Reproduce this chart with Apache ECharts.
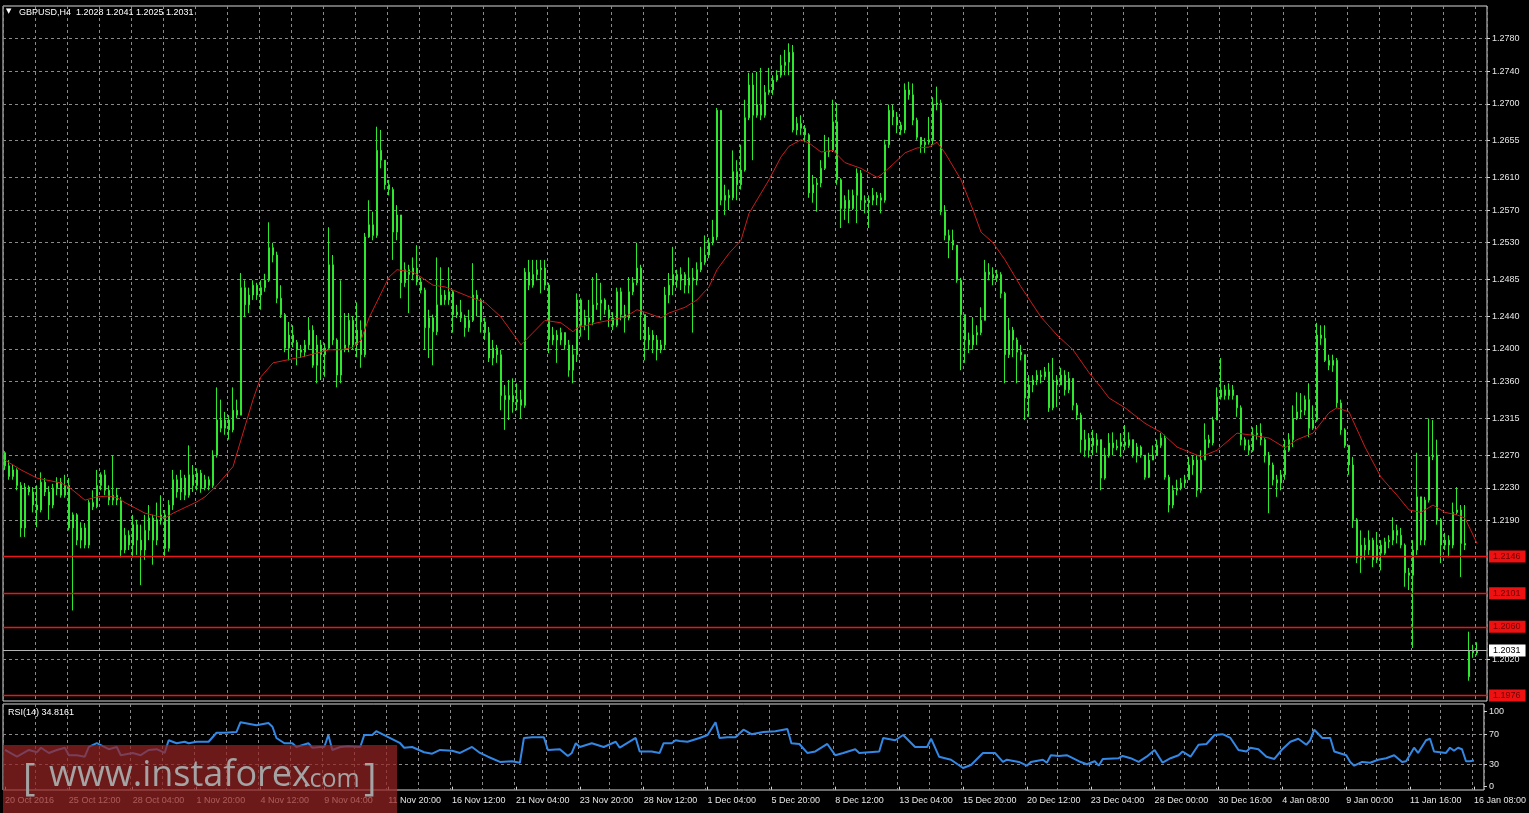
<!DOCTYPE html>
<html><head><meta charset="utf-8"><title>GBPUSD H4</title>
<script src="https://cdn.jsdelivr.net/npm/echarts@6.0.0/dist/echarts.min.js"></script>
<style>html,body{margin:0;padding:0;background:#000;overflow:hidden}#chart{width:1529px;height:813px}</style>
</head><body><div id="chart"></div>
<script>
// time-axis tick labels (one every 16 H4 bars)
const timeLabels = ['20 Oct 2016','25 Oct 12:00','28 Oct 04:00','1 Nov 20:00','4 Nov 12:00','9 Nov 04:00','11 Nov 20:00','16 Nov 12:00','21 Nov 04:00','23 Nov 20:00','28 Nov 12:00','1 Dec 04:00','5 Dec 20:00','8 Dec 12:00','13 Dec 04:00','15 Dec 20:00','20 Dec 12:00','23 Dec 04:00','28 Dec 00:00','30 Dec 16:00','4 Jan 08:00','9 Jan 00:00','11 Jan 16:00','16 Jan 08:00'];

// OHLC in price points: value v means price 1 + v/10000
const opens = [
2273,2257,2244,2252,2233,2181,2231,2225,2209,2203,2237,2225,2209,2230,2237,2221,2233,2181,2197,2166,
2181,2160,2212,2207,2233,2246,2227,2215,2221,2215,2154,2172,2160,2185,2166,2154,2178,2193,2166,2191,
2197,2156,2209,2240,2225,2242,2221,2246,2233,2248,2230,2240,2233,2270,2313,2303,2313,2301,2325,2319,
2475,2454,2466,2478,2466,2475,2484,2524,2515,2462,2442,2401,2417,2408,2399,2396,2405,2423,2380,2405,
2393,2401,2503,2411,2368,2399,2405,2435,2405,2423,2393,2537,2552,2539,2643,2631,2601,2595,2543,2564,
2481,2497,2491,2499,2482,2472,2426,2438,2421,2454,2466,2460,2470,2442,2445,2438,2426,2435,2466,2460,
2433,2420,2389,2401,2393,2343,2338,2343,2335,2338,2331,2494,2478,2491,2497,2499,2478,2411,2417,2411,
2420,2405,2374,2393,2460,2429,2438,2433,2454,2456,2460,2448,2438,2429,2470,2442,2438,2470,2481,2499,
2442,2411,2417,2411,2399,2405,2466,2478,2491,2484,2491,2478,2487,2484,2497,2506,2515,2530,2537,2692,
2582,2588,2585,2617,2601,2619,2683,2723,2686,2699,2686,2714,2717,2729,2735,2747,2751,2763,2668,2676,
2670,2662,2591,2601,2603,2621,2641,2643,2678,2607,2572,2582,2572,2588,2615,2582,2579,2582,2588,2585,
2582,2650,2692,2684,2674,2668,2717,2711,2680,2659,2650,2653,2656,2699,2701,2568,2539,2533,2527,2484,
2442,2411,2405,2417,2420,2435,2494,2491,2487,2491,2468,2393,2423,2411,2396,2393,2340,2356,2362,2368,
2366,2372,2328,2362,2356,2368,2350,2364,2331,2319,2289,2276,2291,2282,2289,2242,2270,2285,2279,2281,
2286,2282,2289,2270,2280,2270,2243,2264,2270,2282,2291,2243,2209,2227,2230,2236,2240,2258,2264,2227,
2264,2289,2285,2313,2341,2350,2343,2350,2343,2328,2289,2282,2276,2295,2297,2289,2270,2258,2240,2236,
2246,2276,2289,2315,2323,2325,2338,2303,2313,2417,2413,2386,2380,2386,2334,2301,2282,2258,2191,2144,
2160,2154,2166,2142,2160,2150,2164,2166,2178,2172,2160,2126,2123,2154,2219,2166,2215,2268,2270,2191,
2160,2166,2160,2200,2203,2162,1999,2031,2028];
const highs = [
2275,2264,2258,2254,2237,2236,2233,2231,2233,2249,2242,2232,2235,2243,2242,2246,2242,2200,2199,2188,
2187,2215,2227,2252,2249,2252,2233,2270,2230,2219,2181,2178,2197,2191,2185,2197,2209,2197,2212,2221,
2203,2215,2252,2246,2252,2246,2282,2258,2254,2252,2246,2244,2276,2353,2338,2323,2319,2353,2338,2493,
2484,2475,2484,2481,2484,2492,2555,2530,2519,2478,2444,2433,2429,2411,2405,2411,2439,2429,2417,2411,
2407,2549,2515,2413,2484,2444,2444,2440,2457,2435,2542,2582,2568,2672,2668,2631,2607,2598,2576,2564,
2506,2503,2512,2527,2487,2475,2448,2442,2512,2500,2472,2500,2472,2454,2460,2442,2448,2505,2472,2462,
2438,2427,2411,2405,2399,2356,2362,2364,2358,2350,2499,2509,2509,2509,2509,2509,2481,2427,2423,2426,
2420,2411,2405,2468,2462,2448,2460,2488,2493,2481,2462,2454,2445,2475,2475,2454,2488,2488,2530,2503,
2442,2427,2423,2417,2411,2476,2493,2525,2497,2500,2494,2512,2499,2506,2525,2539,2536,2558,2695,2692,
2601,2595,2643,2631,2650,2705,2738,2738,2739,2744,2723,2744,2735,2741,2760,2766,2774,2772,2684,2686,
2674,2664,2613,2609,2631,2662,2659,2705,2701,2609,2588,2595,2595,2621,2619,2588,2588,2597,2592,2591,
2656,2699,2699,2690,2678,2725,2727,2725,2683,2659,2658,2684,2708,2721,2705,2576,2546,2546,2527,2487,
2442,2420,2439,2429,2451,2509,2505,2500,2497,2494,2470,2438,2427,2414,2405,2393,2368,2368,2374,2374,
2378,2383,2389,2368,2377,2374,2372,2364,2334,2322,2301,2297,2301,2297,2289,2279,2297,2298,2289,2297,
2307,2298,2289,2285,2282,2270,2273,2282,2289,2297,2295,2246,2233,2240,2242,2246,2268,2270,2270,2276,
2309,2295,2317,2353,2389,2356,2358,2356,2343,2331,2292,2289,2304,2307,2309,2291,2274,2261,2246,2252,
2289,2297,2331,2347,2346,2343,2358,2331,2432,2429,2429,2393,2393,2389,2338,2303,2282,2268,2193,2178,
2169,2178,2169,2176,2166,2169,2172,2194,2185,2181,2162,2132,2166,2273,2219,2219,2315,2313,2289,2193,
2175,2172,2212,2231,2209,2209,2054,2038,2041];
const lows = [
2252,2240,2240,2227,2170,2170,2221,2200,2182,2200,2220,2191,2205,2221,2218,2218,2178,2080,2160,2156,
2156,2156,2203,2205,2227,2221,2209,2209,2209,2145,2150,2154,2145,2148,2111,2142,2166,2136,2160,2185,
2145,2152,2203,2218,2215,2215,2218,2225,2227,2224,2227,2227,2230,2267,2298,2295,2289,2298,2315,2319,
2439,2444,2460,2460,2448,2470,2482,2506,2456,2438,2396,2386,2402,2380,2389,2390,2399,2377,2358,2362,
2366,2399,2405,2353,2358,2396,2396,2399,2390,2377,2390,2536,2533,2536,2621,2595,2588,2509,2533,2462,
2476,2444,2484,2478,2468,2399,2389,2380,2417,2454,2454,2454,2420,2438,2433,2415,2421,2433,2440,2420,
2411,2384,2380,2383,2325,2301,2313,2322,2325,2315,2328,2472,2475,2484,2468,2472,2395,2405,2383,2405,
2399,2366,2358,2384,2415,2423,2411,2429,2448,2435,2442,2427,2423,2427,2435,2420,2435,2466,2478,2411,
2386,2399,2395,2386,2395,2399,2456,2466,2475,2472,2468,2468,2420,2478,2494,2503,2511,2527,2533,2576,
2564,2570,2582,2582,2595,2617,2680,2631,2683,2680,2683,2711,2711,2727,2732,2735,2735,2665,2662,2662,
2653,2585,2579,2568,2598,2619,2635,2641,2601,2548,2558,2554,2570,2554,2570,2566,2548,2576,2576,2566,
2579,2646,2674,2664,2662,2664,2705,2674,2656,2640,2640,2650,2650,2692,2564,2533,2511,2521,2481,2374,
2383,2395,2399,2405,2417,2435,2484,2478,2482,2462,2358,2389,2390,2358,2386,2313,2317,2347,2356,2358,
2362,2323,2325,2329,2356,2343,2346,2325,2313,2273,2268,2267,2270,2273,2227,2240,2267,2270,2276,2268,
2276,2279,2267,2261,2267,2240,2242,2264,2270,2279,2240,2200,2205,2221,2227,2230,2240,2246,2219,2224,
2264,2279,2282,2313,2338,2338,2338,2338,2317,2282,2276,2270,2274,2289,2282,2261,2199,2233,2219,2227,
2240,2274,2280,2313,2315,2319,2292,2301,2311,2405,2384,2374,2372,2328,2295,2279,2246,2181,2138,2126,
2142,2148,2133,2138,2129,2148,2156,2160,2162,2156,2109,2105,2034,2148,2160,2160,2212,2264,2185,2138,
2154,2145,2156,2197,2121,2154,1994,2022,2025];
const closes = [
2257,2244,2252,2233,2181,2231,2225,2209,2203,2237,2225,2209,2230,2237,2221,2233,2181,2197,2166,2181,
2160,2212,2207,2233,2246,2227,2215,2221,2215,2154,2172,2160,2185,2166,2154,2178,2193,2166,2191,2197,
2156,2209,2240,2225,2242,2221,2246,2233,2248,2230,2240,2233,2270,2313,2303,2313,2301,2325,2319,2475,
2454,2466,2478,2466,2475,2484,2524,2515,2462,2442,2401,2417,2408,2399,2396,2405,2423,2380,2405,2393,
2401,2503,2411,2368,2399,2405,2435,2405,2423,2393,2537,2552,2539,2643,2631,2601,2595,2543,2564,2481,
2497,2491,2499,2482,2472,2426,2438,2421,2454,2466,2460,2470,2442,2445,2438,2426,2435,2466,2460,2433,
2420,2389,2401,2393,2343,2338,2343,2335,2338,2331,2494,2478,2491,2497,2499,2478,2411,2417,2411,2420,
2405,2374,2393,2460,2429,2438,2433,2454,2456,2460,2448,2438,2429,2470,2442,2438,2470,2481,2499,2442,
2411,2417,2411,2399,2405,2466,2478,2491,2484,2491,2478,2487,2484,2497,2506,2515,2530,2537,2692,2582,
2588,2585,2617,2601,2619,2683,2723,2686,2699,2686,2714,2717,2729,2735,2747,2751,2763,2668,2676,2670,
2662,2591,2601,2603,2621,2641,2643,2678,2607,2572,2582,2572,2588,2615,2582,2579,2582,2588,2585,2582,
2650,2692,2684,2674,2668,2717,2711,2680,2659,2650,2653,2656,2699,2701,2568,2539,2533,2527,2484,2442,
2411,2405,2417,2420,2435,2494,2491,2487,2491,2468,2393,2423,2411,2396,2393,2340,2356,2362,2368,2366,
2372,2328,2362,2356,2368,2350,2364,2331,2319,2289,2276,2291,2282,2289,2242,2270,2285,2279,2281,2286,
2282,2289,2270,2280,2270,2243,2264,2270,2282,2291,2243,2209,2227,2230,2236,2240,2258,2264,2227,2264,
2289,2285,2313,2341,2350,2343,2350,2343,2328,2289,2282,2276,2295,2297,2289,2270,2258,2240,2236,2246,
2276,2289,2315,2323,2325,2338,2303,2313,2417,2413,2386,2380,2386,2334,2301,2282,2258,2191,2144,2160,
2154,2166,2142,2160,2150,2164,2166,2178,2172,2160,2126,2123,2154,2219,2166,2215,2268,2270,2191,2160,
2166,2160,2200,2203,2162,2160,2031,2028,2031];

// moving average readings [bar index, points]
const maPoints = [[0,2264],[4,2252],[8,2242],[14,2236],[16,2231],[20,2215],[23,2219],[26,2220],[28,2218],[30,2212],[35,2199],[40,2193],[42,2199],[48,2213],[50,2219],[53,2233],[57,2256],[59,2289],[62,2338],[64,2366],[67,2383],[70,2386],[74,2390],[78,2395],[81,2399],[84,2399],[87,2402],[89,2411],[91,2438],[94,2468],[96,2488],[98,2497],[102,2494],[104,2488],[107,2478],[110,2476],[113,2470],[116,2464],[120,2457],[124,2439],[129,2405],[131,2415],[135,2435],[139,2432],[142,2421],[143,2426],[148,2432],[151,2435],[155,2439],[158,2448],[160,2445],[164,2438],[166,2444],[170,2451],[173,2460],[176,2476],[178,2497],[181,2517],[184,2533],[186,2566],[191,2607],[194,2635],[196,2648],[199,2656],[201,2652],[204,2641],[207,2643],[210,2628],[214,2621],[218,2610],[219,2613],[222,2626],[225,2640],[228,2646],[231,2647],[233,2653],[235,2640],[239,2607],[242,2570],[244,2543],[247,2530],[250,2509],[254,2476],[259,2439],[263,2417],[267,2399],[271,2371],[274,2353],[276,2340],[280,2328],[285,2309],[289,2298],[293,2280],[299,2268],[303,2276],[308,2297],[311,2295],[316,2291],[320,2279],[323,2289],[327,2297],[331,2322],[333,2328],[336,2323],[340,2280],[344,2243],[348,2221],[351,2203],[354,2200],[357,2209],[360,2200],[363,2197],[365,2193],[368,2162]];

// RSI(14) readings [bar index, value]
const rsiPoints = [[0,49],[3,40],[6,49],[8,46],[9,52],[11,45],[13,49],[15,52],[16,42],[18,42],[20,40],[21,53],[23,58],[26,50],[28,53],[29,42],[32,45],[34,42],[36,49],[38,50],[40,45],[41,62],[43,58],[45,60],[46,58],[48,60],[51,60],[53,72],[55,72],[58,73],[59,86],[61,84],[63,82],[66,85],[67,80],[68,65],[70,58],[72,58],[73,53],[76,58],[77,52],[79,53],[80,53],[81,69],[82,49],[84,53],[86,54],[89,53],[90,69],[92,69],[93,74],[96,66],[99,58],[100,52],[102,53],[105,46],[107,44],[109,49],[112,48],[114,45],[117,53],[119,45],[121,40],[124,33],[127,34],[129,32],[130,65],[132,66],[135,66],[136,49],[139,50],[141,41],[142,45],[143,58],[144,53],[147,58],[150,53],[153,60],[154,52],[158,65],[159,47],[162,47],[164,45],[165,58],[167,58],[168,62],[169,61],[171,60],[174,65],[176,69],[178,86],[179,65],[181,66],[183,66],[185,76],[187,70],[190,73],[193,74],[196,77],[197,58],[199,57],[201,45],[203,47],[206,57],[208,42],[210,45],[213,50],[214,45],[219,47],[220,65],[223,62],[225,69],[228,53],[231,53],[232,64],[234,40],[237,36],[240,25],[242,29],[245,45],[248,45],[250,33],[251,36],[253,34],[254,33],[256,28],[257,33],[260,36],[261,32],[262,42],[264,41],[266,42],[269,34],[271,30],[273,34],[274,28],[275,37],[279,38],[280,41],[282,38],[284,33],[286,40],[288,49],[290,32],[292,38],[294,42],[295,47],[297,40],[299,56],[301,57],[303,69],[305,70],[307,65],[309,49],[311,47],[312,52],[314,50],[316,40],[318,37],[320,50],[322,60],[324,64],[326,56],[327,62],[328,76],[330,65],[332,65],[333,47],[336,42],[337,33],[338,28],[340,33],[342,32],[344,36],[346,38],[348,42],[350,33],[351,34],[353,52],[354,45],[356,62],[357,64],[358,47],[361,45],[362,52],[363,48],[364,52],[365,50],[366,34],[367,34],[368,34.8161]];

const priceTicks = [1.2780,1.2740,1.2700,1.2655,1.2610,1.2570,1.2530,1.2485,1.2440,1.2400,1.2360,1.2315,1.2270,1.2230,1.2190,1.2020];
const rsiTicks = [0,30,70,100];
const rsiLevels = [30,70];
const levelLines = [1.2146,1.2101,1.2060,1.1976];
const bidPrice = 1.2031;
const titleText = 'GBPUSD,H4  1.2028 1.2041 1.2025 1.2031';
const rsiTitle = 'RSI(14) 34.8161';
const slotCount = 371;

const px = v => +(1 + v / 10000).toFixed(4);
const cats = Array.from({length: slotCount}, (_, i) => String(i));
const candles = closes.map((c, i) => [px(opens[i]), px(c), px(lows[i]), px(highs[i])]);
const ma = maPoints.map(d => [d[0], px(d[1])]);
const FONT = 'Liberation Sans';
const GRID = '#8a8a8a';
const FRAME = '#d8d8d8';

const levelItems = levelLines.map(v => ({
  yAxis: v,
  lineStyle: {color: '#e81818', width: 1.4, type: 'solid'},
  label: {show: true, position: 'end', distance: 2, formatter: v.toFixed(4), backgroundColor: '#ee1111', color: '#6a0000',
          fontSize: 9, fontFamily: FONT, padding: [2, 5, 1, 4]}
}));
levelItems.push({
  yAxis: bidPrice,
  lineStyle: {color: '#b4b4b4', width: 1, type: 'solid'},
  label: {show: true, position: 'end', distance: 2, formatter: bidPrice.toFixed(4), backgroundColor: '#ffffff', color: '#000',
          fontSize: 9, fontFamily: FONT, padding: [2, 5, 1, 4]}
});

const chart = echarts.init(document.getElementById('chart'), null, {renderer: 'canvas', width: 1529, height: 813});
chart.setOption({
  backgroundColor: '#000',
  animation: false,
  textStyle: {fontFamily: FONT},
  grid: [
    {left: 3, top: 6, width: 1484, height: 695, show: true, borderColor: FRAME, borderWidth: 1},
    {left: 3, top: 704, width: 1484, height: 86, show: true, borderColor: FRAME, borderWidth: 1}
  ],
  xAxis: [
    {type: 'category', gridIndex: 0, data: cats, boundaryGap: true,
     axisLine: {show: false}, axisTick: {show: false}, axisLabel: {show: false},
     splitLine: {show: true, interval: 7, lineStyle: {color: GRID, type: [3, 3], width: 1}}},
    {type: 'category', gridIndex: 1, data: cats, boundaryGap: true,
     axisLine: {show: false},
     axisTick: {show: true, interval: 15, alignWithLabel: true, length: 3, lineStyle: {color: FRAME}},
     axisLabel: {show: true, interval: 15, align: 'left', margin: 6, color: '#e6e6e6', fontSize: 9, fontFamily: FONT,
       formatter: (v, i) => timeLabels[i / 16] || ''},
     splitLine: {show: true, interval: 7, lineStyle: {color: GRID, type: [3, 3], width: 1}}}
  ],
  yAxis: [
    {type: 'value', gridIndex: 0, position: 'right', min: 1.19692, max: 1.28197, scale: true,
     splitLine: {show: false}, axisLine: {show: false},
     axisTick: {show: true, customValues: priceTicks, length: 3, lineStyle: {color: FRAME}},
     axisLabel: {show: true, customValues: priceTicks, formatter: v => v.toFixed(4), color: '#e6e6e6', fontSize: 9, fontFamily: FONT, margin: 5}},
    {type: 'value', gridIndex: 1, position: 'right', min: -4.4, max: 110.3,
     splitLine: {show: false}, axisLine: {show: false},
     axisTick: {show: true, customValues: rsiTicks, length: 3, lineStyle: {color: FRAME}},
     axisLabel: {show: true, customValues: rsiTicks, formatter: v => String(v), color: '#e6e6e6', fontSize: 9, fontFamily: FONT, margin: 5}}
  ],
  series: [
    {type: 'line', name: 'gridlines', xAxisIndex: 0, yAxisIndex: 0, data: [], symbol: 'none', z: 1, silent: true,
     markLine: {silent: true, symbol: 'none', z: 1, precision: 4, label: {show: false}, animation: false,
       lineStyle: {color: GRID, type: [3, 3], width: 1},
       data: priceTicks.map(v => ({yAxis: v}))}},
    {type: 'candlestick', name: 'GBPUSD', xAxisIndex: 0, yAxisIndex: 0, data: candles, barWidth: 2, z: 3, silent: true,
     itemStyle: {color: '#86ee86', color0: '#86ee86', borderColor: '#2ee82e', borderColor0: '#2ee82e', borderWidth: 1}},
    {type: 'line', name: 'MA', xAxisIndex: 0, yAxisIndex: 0, data: ma, symbol: 'none', z: 4,
     lineStyle: {color: '#cc1c1c', width: 1}, silent: true,
     markLine: {silent: true, symbol: 'none', z: 6, precision: 4, animation: false, data: levelItems}},
    {type: 'line', name: 'RSI', xAxisIndex: 1, yAxisIndex: 1, data: rsiPoints, symbol: 'none', z: 3, silent: true,
     lineStyle: {color: '#3388e6', width: 2},
     markLine: {silent: true, symbol: 'none', z: 1, precision: 2, label: {show: false},
       lineStyle: {color: GRID, type: [3, 3], width: 1},
       data: rsiLevels.map(v => ({yAxis: v}))}}
  ],
  graphic: [
    {type: 'text', left: 6, top: 8, z: 50, style: {text: '\u25BC', fill: '#fff', font: '7px "DejaVu Sans"'}},
    {type: 'text', left: 19, top: 8, z: 50, style: {text: titleText, fill: '#fff', font: '9px "Liberation Sans"'}},
    {type: 'text', left: 8, top: 708, z: 50, style: {text: rsiTitle, fill: '#fff', font: '9px "Liberation Sans"'}},
    {type: 'rect', z: 100, shape: {x: 3, y: 745, width: 394, height: 68}, style: {fill: 'rgba(150,35,35,0.72)'}},
    {type: 'text', z: 101, x: 23, y: 780, style: {text: '[', fill: '#a4a4a4', font: '38px "Open Sans"', verticalAlign: 'middle'}},
    {type: 'text', z: 101, x: 49, y: 776, style: {text: 'www.instaforex', fill: '#a4a4a4', font: '36px "Open Sans"', verticalAlign: 'middle'}},
    {type: 'text', z: 101, x: 303, y: 780, style: {text: '.com', fill: '#a4a4a4', font: '25px "Open Sans"', verticalAlign: 'middle'}},
    {type: 'text', z: 101, x: 364, y: 780, style: {text: ']', fill: '#a4a4a4', font: '38px "Open Sans"', verticalAlign: 'middle'}}
  ]
});
</script></body></html>
